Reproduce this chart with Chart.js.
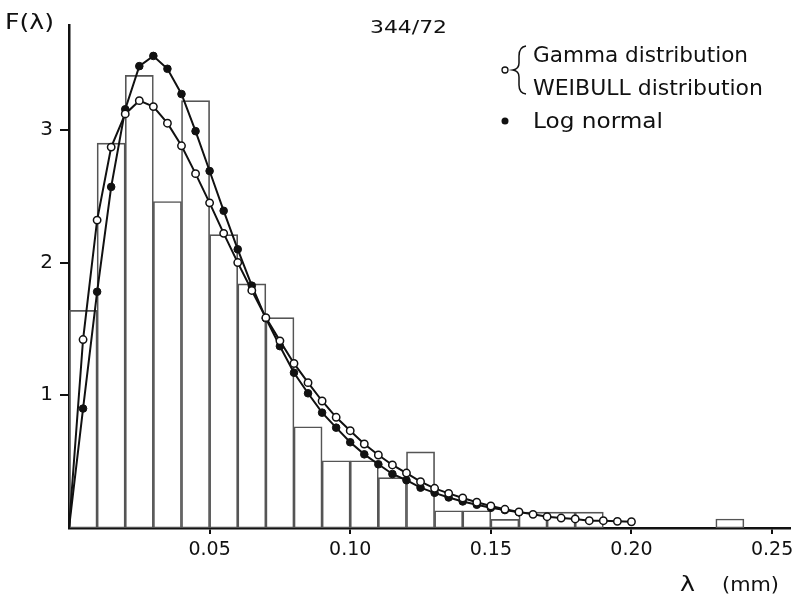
<!DOCTYPE html>
<html>
<head>
<meta charset="utf-8">
<script src="https://cdn.jsdelivr.net/npm/chart.js@4/dist/chart.umd.min.js"></script>
<style>
html,body{margin:0;padding:0;background:#fff;}
#wrap{position:relative;width:795px;height:597px;}
</style>
</head>
<body>
<div id="wrap"><canvas id="c" width="795" height="597"></canvas></div>
<script>
// ---- data ----
const histCenters = [0.005,0.015,0.025,0.035,0.045,0.055,0.065,0.075,0.085,0.095,0.105,0.115,0.125,0.135,0.145,0.155,0.165,0.175,0.185,0.235];
const histValues  = [1.64,2.90,3.41,2.46,3.22,2.21,1.84,1.585,0.763,0.507,0.507,0.379,0.573,0.13,0.13,0.065,0.12,0.12,0.12,0.068];

const gammaX = [0,0.005,0.01,0.015,0.02,0.025,0.03,0.035,0.04,0.045,0.05,0.055,0.06,0.065,0.07,0.075,0.08,0.085,0.09,0.095,0.10,0.105,0.11,0.115,0.12,0.125,0.13,0.135,0.14,0.145,0.15,0.155,0.16,0.165,0.17,0.175,0.18,0.185,0.19,0.195,0.20];
const gammaY = [0,1.42,2.32,2.87,3.12,3.22,3.175,3.05,2.88,2.67,2.45,2.22,2.00,1.79,1.585,1.41,1.24,1.095,0.957,0.834,0.733,0.633,0.55,0.475,0.414,0.349,0.299,0.261,0.226,0.194,0.166,0.141,0.121,0.103,0.085,0.075,0.068,0.055,0.055,0.05,0.047];

const lognX = [0,0.005,0.01,0.015,0.02,0.025,0.03,0.035,0.04,0.045,0.05,0.055,0.06,0.065,0.07,0.075,0.08,0.085,0.09,0.095,0.10,0.105,0.11,0.115,0.12,0.125,0.13,0.135,0.14,0.145,0.15,0.155,0.16];
const lognY = [0,0.90,1.78,2.57,3.155,3.48,3.557,3.46,3.27,2.99,2.69,2.39,2.10,1.826,1.58,1.37,1.17,1.015,0.869,0.756,0.646,0.555,0.48,0.407,0.36,0.304,0.265,0.23,0.2,0.175,0.152,0.135,0.118];

const xTickValues = [0.05,0.10,0.15,0.20,0.25];
const xTickLabels = ['0.05','0.10','0.15','0.20','0.25'];
const yTickValues = [1,2,3];
const yTickLabels = ['1','2','3'];

const yAxisTitle = 'F(λ)';
const xAxisSymbol = 'λ';
const xAxisUnit = '(mm)';
const figureCode = '344/72';
const legendGamma = 'Gamma distribution';
const legendWeibull = 'WEIBULL distribution';
const legendLogn = 'Log normal';

// ---- build datasets ----
const zip = (xs, ys) => xs.map((x, i) => ({x: x, y: ys[i]}));
const FONT = '"DejaVu Sans", sans-serif';

function fitText(ctx, text, x, y, size, width) {
  ctx.save();
  ctx.font = size + 'px ' + FONT;
  const w = ctx.measureText(text).width;
  const s = width ? width / w : 1;
  ctx.translate(x, y);
  ctx.scale(s, 1);
  ctx.fillText(text, 0, 0);
  ctx.restore();
}

const annotate = {
  id: 'annotate',
  afterDraw(chart) {
    const ctx = chart.ctx;
    ctx.save();
    ctx.fillStyle = '#111';
    ctx.textBaseline = 'alphabetic';
    ctx.textAlign = 'left';
    fitText(ctx, yAxisTitle, 5, 29, 22, 49);
    fitText(ctx, figureCode, 370, 33, 18, 77);
    fitText(ctx, xAxisSymbol, 680, 591, 21, 15);
    fitText(ctx, xAxisUnit, 722, 591, 19, 57);
    fitText(ctx, legendGamma, 533, 62, 22, 215);
    fitText(ctx, legendWeibull, 533, 95, 22, 230);
    fitText(ctx, legendLogn, 533, 128, 22, 130);
    // brace
    ctx.strokeStyle = '#111';
    ctx.lineWidth = 1.5;
    ctx.beginPath();
    ctx.moveTo(526, 46);
    ctx.quadraticCurveTo(519, 47, 519, 56);
    ctx.lineTo(519, 63);
    ctx.quadraticCurveTo(519, 69, 513, 70);
    ctx.quadraticCurveTo(519, 71, 519, 77);
    ctx.lineTo(519, 85);
    ctx.quadraticCurveTo(519, 93, 526, 94);
    ctx.stroke();
    // legend markers
    ctx.lineWidth = 1.3;
    ctx.fillStyle = '#fff';
    ctx.beginPath();
    ctx.arc(505, 70, 3, 0, Math.PI * 2);
    ctx.fill();
    ctx.stroke();
    ctx.fillStyle = '#111';
    ctx.beginPath();
    ctx.arc(505, 121, 3.5, 0, Math.PI * 2);
    ctx.fill();
    ctx.restore();
  }
};

const noOrigin = r => (c => c.dataIndex === 0 ? 0 : r);

new Chart(document.getElementById('c'), {
  type: 'bar',
  data: {
    datasets: [
      {
        type: 'line', label: 'Gamma / WEIBULL', data: zip(gammaX, gammaY), order: 0,
        borderColor: '#111', borderWidth: 2, tension: 0,
        pointRadius: noOrigin(3.7), pointBorderWidth: 1.5, pointBackgroundColor: '#fff', pointBorderColor: '#111'
      },
      {
        type: 'line', label: 'Log normal', data: zip(lognX, lognY), order: 1,
        borderColor: '#111', borderWidth: 2, tension: 0,
        pointRadius: noOrigin(3.8), pointBorderWidth: 1, pointBackgroundColor: '#111', pointBorderColor: '#111'
      },
      {
        type: 'bar', label: 'Histogram', data: zip(histCenters, histValues), order: 2,
        backgroundColor: 'rgba(0,0,0,0)', borderColor: '#555', borderWidth: 1,
        borderSkipped: false, barPercentage: 1, categoryPercentage: 1
      }
    ]
  },
  options: {
    responsive: false,
    devicePixelRatio: 1,
    animation: false,
    layout: { padding: { top: 25, right: 2, left: 0, bottom: 0 } },
    plugins: { legend: { display: false }, tooltip: { enabled: false } },
    scales: {
      x: {
        type: 'linear', min: 0, max: 0.2562, offset: false,
        afterFit: s => { s.height = 69; s.paddingLeft = 0; s.paddingRight = 0; },
        afterBuildTicks: s => { s.ticks = xTickValues.map(v => ({ value: v })); },
        ticks: {
          autoSkip: false, maxRotation: 0, padding: 5, color: '#111',
          font: { family: FONT, size: 19 },
          callback: (v, i) => xTickLabels[i]
        },
        grid: { offset: false, drawOnChartArea: false, drawTicks: true, tickLength: 6, color: '#111', lineWidth: 2 },
        border: { display: true, color: '#111', width: 2.5 }
      },
      y: {
        type: 'linear', min: 0, max: 3.79,
        afterFit: s => { s.width = 69; s.paddingTop = 0; s.paddingBottom = 0; },
        afterBuildTicks: s => { s.ticks = yTickValues.map(v => ({ value: v })); },
        ticks: {
          padding: 7, color: '#111',
          font: { family: FONT, size: 20 },
          callback: (v, i) => yTickLabels[i]
        },
        grid: { drawOnChartArea: false, drawTicks: true, tickLength: 9, color: '#111', lineWidth: 2 },
        border: { display: true, color: '#111', width: 2.5 }
      }
    }
  },
  plugins: [annotate]
});
</script>
</body>
</html>
